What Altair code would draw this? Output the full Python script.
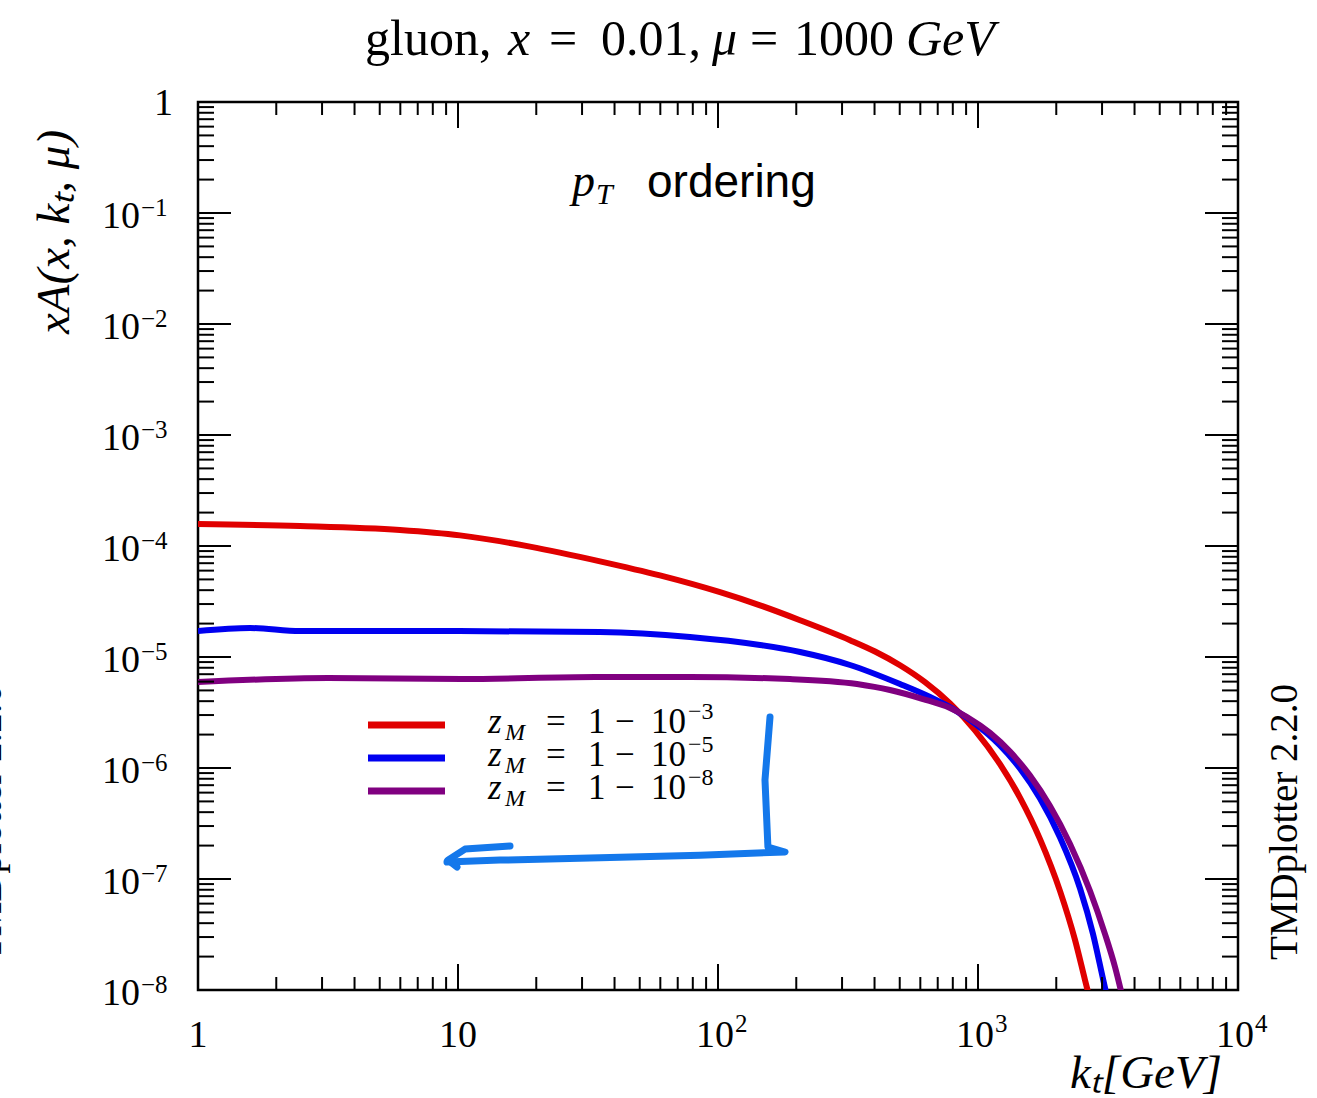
import altair as alt
import pandas as pd

# ---------------- data ----------------
series = ["z_M = 1 - 10^-3", "z_M = 1 - 10^-5", "z_M = 1 - 10^-8"]
colors = ["#e00000", "#0000f0", "#800080"]
legend_exponents = ["\u22123", "\u22125", "\u22128"]

red_k = [1, 2.468, 5.98, 10.18, 18.92, 35.17, 59.8, 101.8, 145.1, 206.8, 321.9, 401.7, 501.2, 625.5, 780.4,
         973.8, 1215, 1450, 1732, 2068, 2361, 2579, 2745]
red_v = [1.578e-4, 1.514e-4, 1.393e-4, 1.246e-4, 9.88e-5, 7.28e-5, 5.43e-5, 3.835e-5, 2.92e-5, 2.145e-5, 1.417e-5,
         1.12e-5, 8.42e-6, 5.93e-6, 3.82e-6, 2.186e-6, 1.084e-6, 5.41e-7, 2.288e-7, 7.78e-8, 2.83e-8, 1.233e-8,
         6.9e-9]

blue_k = [1, 1.585, 2.468, 10.09, 35.17, 78.0, 145.1, 206.8, 321.9, 501.2, 653.9, 815.5, 973.8, 1215, 1450,
          1732, 2068, 2469, 2769, 3026, 3162]
blue_v = [1.714e-5, 1.825e-5, 1.714e-5, 1.714e-5, 1.679e-5, 1.514e-5, 1.282e-5, 1.109e-5, 8.47e-6, 5.71e-6,
          4.36e-6, 3.32e-6, 2.51e-6, 1.595e-6, 9.90e-7, 5.31e-7, 2.365e-7, 8.21e-8, 3.19e-8, 1.257e-8, 7.96e-9]

purple_k = [1, 3.162, 10.36, 33.65, 78.0, 189.2, 342.4, 458.6, 614.4, 780.4, 907.6, 1112.5, 1328, 1585, 1892,
            2259, 2697, 3080, 3365, 3579, 3708]
purple_v = [5.95e-6, 6.47e-6, 6.33e-6, 6.60e-6, 6.60e-6, 6.33e-6, 5.71e-6, 5.04e-6, 4.18e-6, 3.47e-6, 2.88e-6,
            2.07e-6, 1.405e-6, 8.54e-7, 4.55e-7, 2.07e-7, 7.79e-8, 3.19e-8, 1.611e-8, 9.0e-9, 6.3e-9]

# hand-drawn arrow annotation (in data coordinates)
arrow_part = ["shaft"] * 8 + ["barb"] * 4
arrow_k = [158.5, 151.6, 155.6, 181, 85.3, 35.2, 14.5, 9.07, 15.85, 10.64, 9.15, 9.91]
arrow_v = [2.88e-6, 7.8e-7, 1.94e-7, 1.75e-7, 1.64e-7, 1.55e-7, 1.48e-7, 1.42e-7, 1.98e-7, 1.86e-7, 1.48e-7, 1.28e-7]

# axis ticks and labels
x_plain = [1, 10]
x_plain_labels = ["1", "10"]
x_pow = [100, 1000, 10000]
x_pow_exps = ["2", "3", "4"]
y_pow = [1e-8, 1e-7, 1e-6, 1e-5, 1e-4, 1e-3, 1e-2, 1e-1]
y_pow_exps = ["\u22128", "\u22127", "\u22126", "\u22125", "\u22124", "\u22123", "\u22122", "\u22121"]
y_plain = [1]
y_plain_labels = ["1"]

x_major = [1, 10, 100, 1000, 10000]
y_major = [1e-8, 1e-7, 1e-6, 1e-5, 1e-4, 1e-3, 1e-2, 1e-1, 1]
x_minor = [m * 10 ** d for d in range(0, 4) for m in range(2, 10)]
y_minor = [m * 10.0 ** d for d in range(-8, 0) for m in range(2, 10)]

# ---------------- layout ----------------
W, H = 1040, 888
OX, OY = 198, 102
SERIF = "Liberation Serif"
SANS = "Liberation Sans"

xscale = alt.Scale(type="log", domain=[1, 10000], nice=False)
yscale = alt.Scale(type="log", domain=[1e-8, 1], nice=False)

rows = []
for name, ks, vs in [(series[0], red_k, red_v), (series[1], blue_k, blue_v), (series[2], purple_k, purple_v)]:
    for i, (k, v) in enumerate(zip(ks, vs)):
        rows.append({"series": name, "k": k, "v": v, "i": i})
curve_df = pd.DataFrame(rows)

arrow_df = pd.DataFrame({"part": arrow_part, "k": arrow_k, "v": arrow_v, "i": list(range(len(arrow_k)))})

curves = alt.Chart(curve_df).mark_line(strokeWidth=6, clip=True, interpolate="monotone").encode(
    x=alt.X("k:Q", scale=xscale, axis=None, title=None),
    y=alt.Y("v:Q", scale=yscale, axis=None, title=None),
    color=alt.Color("series:N", scale=alt.Scale(domain=series, range=colors), legend=None),
    detail="series:N",
    order="i:Q",
)

arrow = alt.Chart(arrow_df).mark_line(strokeWidth=7, color="#1478eb", strokeCap="round",
                                      strokeJoin="round").encode(
    x=alt.X("k:Q", scale=xscale, title=None),
    y=alt.Y("v:Q", scale=yscale, title=None),
    detail="part:N",
    order="i:Q",
)


def xticks(vals, length, top):
    df = pd.DataFrame({"k": vals})
    y0 = 0 if top else H
    y1 = length if top else H - length
    return alt.Chart(df).mark_rule(color="black", strokeWidth=2).encode(
        x=alt.X("k:Q", scale=xscale, title=None), y=alt.value(y0), y2=alt.value(y1))


def yticks(vals, length, right):
    df = pd.DataFrame({"v": vals})
    x0 = W if right else 0
    x1 = W - length if right else length
    return alt.Chart(df).mark_rule(color="black", strokeWidth=2).encode(
        y=alt.Y("v:Q", scale=yscale, title=None), x=alt.value(x0), x2=alt.value(x1))


tick_layers = [
    xticks(x_major, 26, False), xticks(x_minor, 13, False),
    xticks(x_major, 26, True), xticks(x_minor, 13, True),
    yticks(y_major, 33, False), yticks(y_minor, 16, False),
    yticks(y_major, 33, True), yticks(y_minor, 16, True),
]

# tick labels drawn through the scales
LBL = 38
EXP = 25
xl_plain = alt.Chart(pd.DataFrame({"k": x_plain, "t": x_plain_labels})).mark_text(
    font=SERIF, fontSize=LBL, baseline="middle", align="center", color="black").encode(
    x=alt.X("k:Q", scale=xscale, title=None), y=alt.value(1036 - OY), text="t:N")
xl_base = alt.Chart(pd.DataFrame({"k": x_pow, "t": ["10"] * len(x_pow)})).mark_text(
    font=SERIF, fontSize=LBL, baseline="middle", align="right", dx=16, color="black").encode(
    x=alt.X("k:Q", scale=xscale, title=None), y=alt.value(1036 - OY), text="t:N")
xl_exp = alt.Chart(pd.DataFrame({"k": x_pow, "t": x_pow_exps})).mark_text(
    font=SERIF, fontSize=EXP, baseline="middle", align="left", dx=17, color="black").encode(
    x=alt.X("k:Q", scale=xscale, title=None), y=alt.value(1024 - OY), text="t:N")

yl_plain = alt.Chart(pd.DataFrame({"v": y_plain, "t": y_plain_labels})).mark_text(
    font=SERIF, fontSize=LBL, baseline="middle", align="right", dy=2, color="black").encode(
    y=alt.Y("v:Q", scale=yscale, title=None), x=alt.value(173 - OX), text="t:N")
yl_base = alt.Chart(pd.DataFrame({"v": y_pow, "t": ["10"] * len(y_pow)})).mark_text(
    font=SERIF, fontSize=LBL, baseline="middle", align="right", dy=4, color="black").encode(
    y=alt.Y("v:Q", scale=yscale, title=None), x=alt.value(140 - OX), text="t:N")
yl_exp = alt.Chart(pd.DataFrame({"v": y_pow, "t": y_pow_exps})).mark_text(
    font=SERIF, fontSize=EXP, baseline="middle", align="left", dy=-5, color="black").encode(
    y=alt.Y("v:Q", scale=yscale, title=None), x=alt.value(141 - OX), text="t:N")

label_layers = [xl_plain, xl_base, xl_exp, yl_plain, yl_base, yl_exp]

one = pd.DataFrame({"d": [0]})


def txt(s, x, y, size, italic=False, font=SERIF, angle=0, align="left", baseline="alphabetic"):
    return alt.Chart(one).mark_text(text=s, fontSize=size, font=font,
                                    fontStyle="italic" if italic else "normal",
                                    align=align, baseline=baseline, angle=angle, color="black").encode(
        x=alt.value(x - OX), y=alt.value(y - OY))


texts = []
# title pieces
for s, x, it in [("gluon,", 365, False), ("x", 508, True), ("=", 549, False), ("0.01,", 601, False),
                 ("\u03bc", 712, True), ("=", 750, False), ("1000", 794, False), ("GeV", 906, True)]:
    texts.append(txt(s, x, 55, 50, italic=it))

# axis titles
texts.append(txt("xA(x,  k\u209c,  \u03bc)", 55, 232, 47, italic=True, angle=270, align="center", baseline="middle"))
texts.append(txt("k\u209c[GeV]", 1070, 1088, 47, italic=True))

# in-plot label
texts.append(txt("p", 572, 196, 46, italic=True))
texts.append(txt("T", 596, 204, 30, italic=True))
texts.append(txt("ordering", 647, 197, 46, font=SANS))

# side labels
texts.append(txt("TMDplotter 2.2.0", 1297, 822, 39, angle=270, align="center"))
texts.append(txt("TMDplotter 2.2.0", 1, 822, 39, angle=270, align="center"))

# legend
legend_layers = []
for j, (c, ex) in enumerate(zip(colors, legend_exponents)):
    ly = 725 + 33 * j
    b = 733 + 33 * j
    legend_layers.append(alt.Chart(one).mark_rule(color=c, strokeWidth=7).encode(
        x=alt.value(368 - OX), x2=alt.value(445 - OX), y=alt.value(ly - OY)))
    legend_layers.append(txt("z", 488, b, 35, italic=True))
    legend_layers.append(txt("M", 505, b + 7, 24, italic=True))
    legend_layers.append(txt("=", 546, b, 35))
    legend_layers.append(txt("1", 588, b, 35))
    legend_layers.append(txt("\u2212", 615, b, 35))
    legend_layers.append(txt("10", 651, b, 35))
    legend_layers.append(txt(ex, 688, b - 14, 24))

chart = alt.layer(curves, *tick_layers, arrow, *label_layers, *legend_layers, *texts).properties(
    width=W, height=H,
    padding={"left": OX, "top": OY, "right": 1317 - OX - W, "bottom": 1098 - OY - H},
    autosize=alt.AutoSizeParams(type="none"),
).configure_view(stroke="black", strokeWidth=2.5)

chart.save("out.html", embed_options={"renderer": "svg", "actions": False})
